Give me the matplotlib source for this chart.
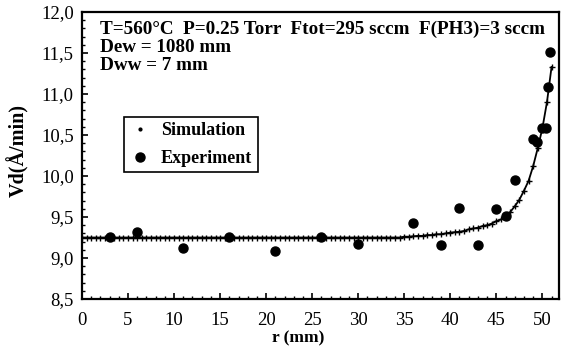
import numpy as np
import matplotlib
matplotlib.use("Agg")
import matplotlib.pyplot as plt
from matplotlib.ticker import MultipleLocator, FuncFormatter

# Experimental data
r_exp = [3, 6, 11, 16, 21, 26, 30, 36, 39, 41, 43, 45, 46, 47, 49, 49.4, 50, 50.4, 50.6, 50.8]
v_exp = [9.26, 9.32, 9.12, 9.26, 9.09, 9.26, 9.17, 9.43, 9.16, 9.61, 9.16, 9.60, 9.51,
         9.95, 10.45, 10.41, 10.59, 10.59, 11.08, 11.51]

# Simulation (every 0.5 mm)
r_sim = np.arange(0, 51.5, 0.5)
v_sim = [9.25, 9.25, 9.25, 9.25, 9.25, 9.25, 9.25, 9.25, 9.25, 9.25,
         9.25, 9.25, 9.25, 9.25, 9.25, 9.25, 9.25, 9.25, 9.25, 9.25,
         9.25, 9.25, 9.25, 9.25, 9.25, 9.25, 9.25, 9.25, 9.25, 9.25,
         9.25, 9.25, 9.25, 9.25, 9.25, 9.25, 9.25, 9.25, 9.25, 9.25,
         9.25, 9.25, 9.25, 9.25, 9.25, 9.25, 9.25, 9.25, 9.25, 9.25,
         9.25, 9.25, 9.25, 9.25, 9.25, 9.25, 9.25, 9.25, 9.25, 9.25,
         9.25, 9.25, 9.25, 9.25, 9.25, 9.25, 9.25, 9.25, 9.25, 9.25,
         9.26, 9.26, 9.265, 9.27, 9.27, 9.28, 9.28, 9.29, 9.29, 9.30,
         9.31, 9.315, 9.32, 9.33, 9.35, 9.36, 9.37, 9.39, 9.40, 9.42,
         9.45, 9.47, 9.50, 9.56, 9.63, 9.71, 9.82, 9.94, 10.12, 10.34,
         10.58, 10.90, 11.33]

header_lines = ["T=560°C  P=0.25 Torr  Ftot=295 sccm  F(PH3)=3 sccm",
                "Dew = 1080 mm",
                "Dww = 7 mm"]

serif = ["Liberation Serif", "DejaVu Serif"]
plt.rcParams["font.family"] = serif

fig = plt.figure(figsize=(5.64, 3.5), dpi=100)
ax = fig.add_axes([0.1454, 0.1457, 0.991 - 0.1454, 0.9657 - 0.1457])

ax.plot(r_sim, v_sim, color="black", lw=1.3, marker="+", ms=4, mew=1.0,
        label="Simulation", zorder=2)
ax.plot(r_exp, v_exp, linestyle="none", marker="o", ms=6.5, color="black",
        label="Experiment", zorder=3)

ax.set_xlim(0, 51.8)
ax.set_ylim(8.5, 12.0)
ax.xaxis.set_major_locator(MultipleLocator(5))
ax.xaxis.set_minor_locator(MultipleLocator(1))
ax.yaxis.set_major_locator(MultipleLocator(0.5))
ax.yaxis.set_minor_locator(MultipleLocator(0.1))
ax.yaxis.set_major_formatter(FuncFormatter(lambda v, p: f"{v:.1f}".replace(".", ",")))
ax.tick_params(which="major", direction="in", length=4, width=1.2, labelsize=13.5,
               top=False, right=False)
ax.tick_params(axis="x", which="major", pad=9)
ax.tick_params(axis="y", which="major", pad=6)
ax.tick_params(which="minor", direction="in", length=2, width=1.0, top=False, right=False)
for s in ax.spines.values():
    s.set_linewidth(1.6)

ax.set_xlabel("r (mm)", fontsize=12.5, fontweight="bold", va="center")
ax.xaxis.set_label_coords(0.453, -0.136)
ax.set_ylabel("Vd(Å/min)", fontsize=14.5, fontweight="bold", va="center")
ax.yaxis.set_label_coords(-0.134, 0.516)

for y, line in zip([0.923, 0.861, 0.798], header_lines):
    ax.text(0.038, y, line, transform=ax.transAxes, fontsize=13.8,
            fontweight="bold", va="baseline", ha="left")

leg = ax.legend(loc="upper left", bbox_to_anchor=(0.088, 0.635), frameon=True,
                fancybox=False, edgecolor="black", framealpha=1,
                prop={"family": serif, "weight": "bold", "size": 13},
                handlelength=1.2, borderpad=0.3, labelspacing=0.6, handletextpad=0.55,
                borderaxespad=0)
leg.get_frame().set_linewidth(1.2)
h_sim = leg.legend_handles[0]
h_sim.set_linestyle("none")
h_sim.set_marker(".")
h_sim.set_markersize(4)

fig.savefig("out.png", dpi=100)
